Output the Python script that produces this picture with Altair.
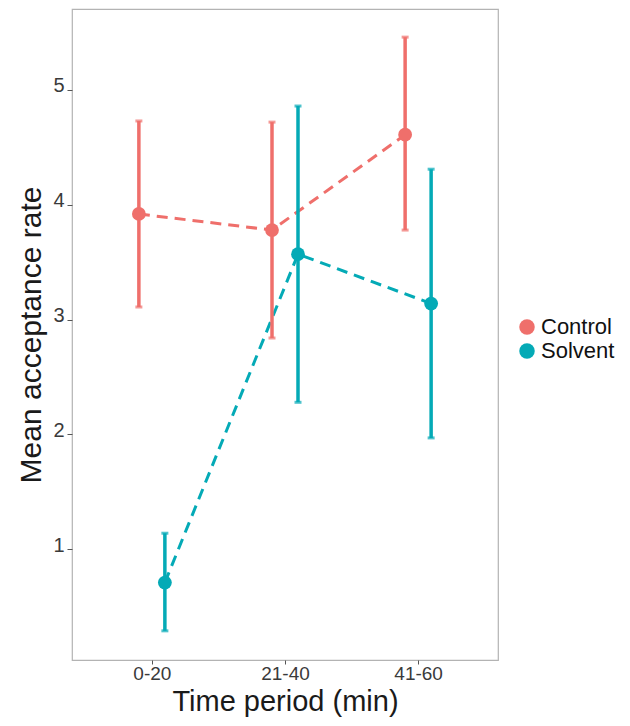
import altair as alt
import pandas as pd

periods = ["0-20", "21-40", "41-60"]
groups = ["Control", "Solvent"]
control_mean = [3.92, 3.78, 4.61]
control_lo = [3.11, 2.84, 3.78]
control_hi = [4.73, 4.72, 5.46]
solvent_mean = [0.71, 3.57, 3.14]
solvent_lo = [0.29, 2.28, 1.97]
solvent_hi = [1.14, 4.86, 4.31]
colors = ["#EF6F6B", "#04AAB6"]

rows = []
for g, m, lo, hi in [("Control", control_mean, control_lo, control_hi),
                     ("Solvent", solvent_mean, solvent_lo, solvent_hi)]:
    for p, a, b, c in zip(periods, m, lo, hi):
        rows.append({"period": p, "group": g, "mean": a, "lo": b, "hi": c})
df = pd.DataFrame(rows)

FONT = "Liberation Sans"

x = alt.X("period:N", sort=periods,
          scale=alt.Scale(type="point", padding=0.6, domain=periods),
          axis=alt.Axis(title="Time period (min)", labelAngle=0, tickSize=4,
                        labelFontSize=19, labelPadding=0,
                        titleBaseline="alphabetic", titleY=50, titleFontSize=29))
xo = alt.XOffset("group:N", scale=alt.Scale(type="point", padding=0, domain=groups, range=[-13, 13]))
yscale = alt.Scale(domain=[0.036, 5.705], nice=False, zero=False)
color = alt.Color("group:N", scale=alt.Scale(domain=groups, range=colors),
                  legend=alt.Legend(title=None, orient="none", legendX=444, legendY=307,
                                    symbolType="circle", symbolSize=240, symbolOpacity=1,
                                    symbolStrokeWidth=0,
                                    labelFontSize=22, labelFont=FONT, labelColor="#111",
                                    rowPadding=2, labelOffset=3))

base = alt.Chart(df).encode(x=x, xOffset=xo, color=color)

lines = base.mark_line(strokeDash=[11, 7], strokeWidth=3).encode(
    y=alt.Y("mean:Q", scale=yscale,
            axis=alt.Axis(title="Mean acceptance rate", values=[1, 2, 3, 4, 5], format="d")),
    detail="group:N")
rules = base.mark_rule(strokeWidth=3.5).encode(y="lo:Q", y2="hi:Q")
cap_lo = base.mark_tick(size=7, thickness=3, orient="horizontal").encode(y="lo:Q")
cap_hi = base.mark_tick(size=7, thickness=3, orient="horizontal").encode(y="hi:Q")
points = base.mark_circle(size=190, opacity=1).encode(y="mean:Q")

chart = alt.layer(lines, rules, cap_lo, cap_hi, points).properties(
    width=426, height=651,
    autosize=alt.AutoSizeParams(type="none"),
    padding={"left": 64, "top": 1, "right": 124, "bottom": 58},
).configure_view(stroke="#b3b3b3", strokeWidth=1.2).configure_axis(
    grid=False, domain=False, tickColor="#555", tickSize=5,
    labelFont=FONT, labelFontSize=20, labelColor="#3a3a3a",
    titleFont=FONT, titleFontSize=30, titleColor="#1a1a1a", titleFontWeight="normal",
).configure_axisY(labelPadding=3, titlePadding=6, labelOffset=-4)

chart.save("out.html", embed_options={"renderer": "svg", "actions": False})
